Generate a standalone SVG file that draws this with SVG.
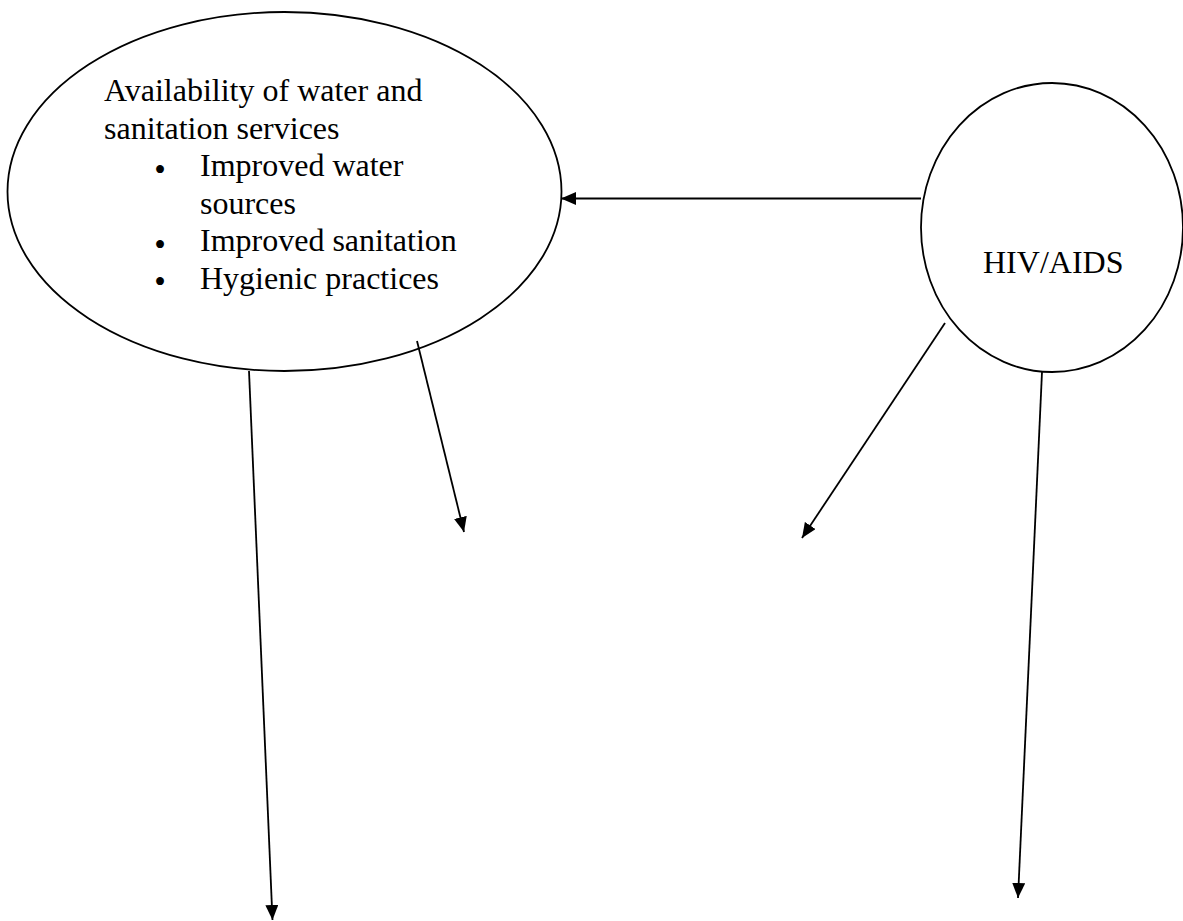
<svg xmlns="http://www.w3.org/2000/svg" width="1183" height="921" viewBox="0 0 1183 921">
  <style>
    .node { fill: #ffffff; stroke: #000000; stroke-width: 1.8; }
    .label { font-family: "Liberation Serif", "Times New Roman", serif; font-size: 32px; fill: #000000; }
    .bullet { font-family: "Liberation Serif", "Times New Roman", serif; font-size: 33px; fill: #000000; text-anchor: middle; }
    .conn { stroke: #000000; stroke-width: 1.8; fill: none; marker-end: url(#arrow); }
  </style>
  <defs>
    <marker id="arrow" markerUnits="userSpaceOnUse" markerWidth="15" markerHeight="13" viewBox="0 0 15 13" refX="15" refY="6.5" orient="auto">
      <path d="M0,0 L15,6.5 L0,13 z" fill="#000000"/>
    </marker>
  </defs>
  <rect x="0" y="0" width="1183" height="921" fill="#ffffff"/>
  <g id="node-water-sanitation">
    <ellipse class="node" cx="284.5" cy="191.5" rx="277" ry="179.5"/>
    <text class="label" x="104" y="101">Availability of water and</text>
    <text class="label" x="104" y="138.6">sanitation services</text>
    <text class="bullet" x="160" y="180.5">•</text>
    <text class="label" x="200" y="176.2">Improved water</text>
    <text class="label" x="200" y="213.8">sources</text>
    <text class="bullet" x="160" y="255.7">•</text>
    <text class="label" x="200" y="251.4">Improved sanitation</text>
    <text class="bullet" x="160" y="293.3">•</text>
    <text class="label" x="200" y="289">Hygienic practices</text>
  </g>
  <g id="node-hiv-aids">
    <ellipse class="node" cx="1052" cy="227.5" rx="131" ry="144.5"/>
    <text class="label" x="983" y="273">HIV/AIDS</text>
  </g>
  <g id="connectors">
    <line class="conn" x1="921" y1="198.5" x2="561" y2="198.5"/>
    <line class="conn" x1="249" y1="371" x2="272.5" y2="920"/>
    <line class="conn" x1="417" y1="341" x2="464" y2="532"/>
    <line class="conn" x1="945" y1="323" x2="802" y2="538"/>
    <line class="conn" x1="1042" y1="372" x2="1018" y2="898"/>
  </g>
</svg>
